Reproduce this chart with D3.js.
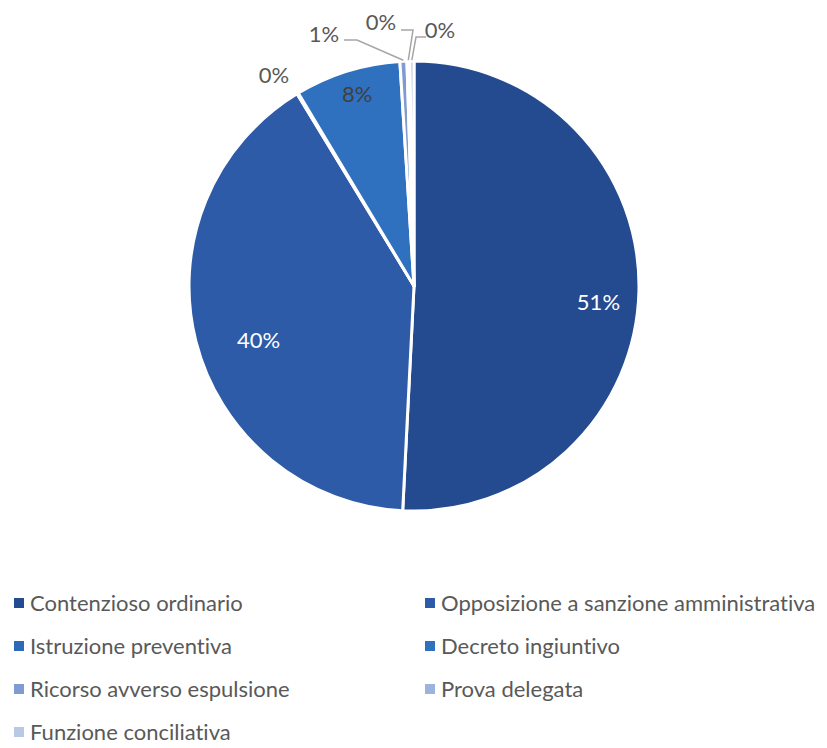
<!DOCTYPE html>
<html>
<head>
<meta charset="utf-8">
<script src="https://cdn.jsdelivr.net/npm/d3@7"></script>
<style>
  body { margin: 0; background: #fff; }
  text { font-family: Lato, "Open Sans", sans-serif; font-variant-ligatures: none; }
</style>
</head>
<body>
<div id="wrapper"></div>
<script>
// categories and shares (percent)
const categories = [
    "Contenzioso ordinario",
    "Opposizione a sanzione amministrativa",
    "Istruzione preventiva",
    "Decreto ingiuntivo",
    "Ricorso avverso espulsione",
    "Prova delegata",
    "Funzione conciliativa"
];
const values = [50.8, 40.5, 0.1, 7.6, 0.5, 0.2, 0.3];
const labels = ["51%", "40%", "0%", "8%", "1%", "0%", "0%"];
const colors = ["#244a90", "#2d5ba8", "#2e68b8", "#2f71bf", "#7f9bd2", "#9cb3de", "#b8c8e7"];

function build() {
    const dimension = { width: 827, height: 748 };
    const cx = 414, cy = 286, radius = 225;

    const wrapper = d3.select("#wrapper")
        .append("svg")
        .attr("width", dimension.width)
        .attr("height", dimension.height);

    const data = categories.map((c, i) => ({ name: c, value: values[i], label: labels[i], color: colors[i] }));

    const pie = d3.pie().sort(null).value(d => d.value);
    const arcs = pie(data);

    const arc = d3.arc().innerRadius(0).outerRadius(radius);

    const bounds = wrapper.append("g")
        .attr("transform", `translate(${cx},${cy})`);

    bounds.selectAll("path")
        .data(arcs)
        .enter()
        .append("path")
        .attr("d", arc)
        .attr("fill", d => d.data.color)
        .attr("stroke", "#fff")
        .attr("stroke-width", 3)
        .attr("stroke-linejoin", "round");

    // inside labels (big slices): radius factor + small nudge like excel's best fit
    const inside = { 0: [0.82, 0, 12], 1: [0.74, 6, 13], 3: [0.88, 2, -3] };
    bounds.selectAll("text.inside")
        .data(arcs.filter((d, i) => inside[i] !== undefined))
        .enter()
        .append("text")
        .attr("class", "inside")
        .attr("transform", d => {
            const [f, nx, ny] = inside[d.index];
            const a = (d.startAngle + d.endAngle) / 2;
            return `translate(${Math.sin(a) * radius * f + nx},${-Math.cos(a) * radius * f + ny})`;
        })
        .attr("text-anchor", "middle")
        .attr("dy", "0.35em")
        .style("font-size", "22px")
        .style("fill", d => d.index === 3 ? "#404040" : "#fff")
        .text(d => d.data.label);

    // outside labels for small slices: label pos relative to center, elbow
    const outside = {
        2: { x: -140, y: -211 },
        4: { x: -90, y: -252, ex: -57, ey: -246 },
        5: { x: -33, y: -264, ex: -1, ey: -256 },
        6: { x: 26, y: -256, ex: 2, ey: -249 }
    };
    arcs.forEach(d => {
        const o = outside[d.index];
        if (!o) return;
        const a = (d.startAngle + d.endAngle) / 2;
        const px = Math.sin(a) * (radius + 1), py = -Math.cos(a) * (radius + 1);
        if (o.ex !== undefined) {
            const lx = o.x + (o.x < o.ex ? 20 : -14);
            bounds.append("polyline")
                .attr("points", `${lx},${o.ey} ${o.ex},${o.ey} ${px},${py}`)
                .attr("fill", "none")
                .attr("stroke", "#a6a6a6")
                .attr("stroke-width", 1.5);
        }
        bounds.append("text")
            .attr("x", o.x)
            .attr("y", o.y)
            .attr("text-anchor", "middle")
            .attr("dy", "0.35em")
            .style("font-size", "22px")
            .style("fill", "#595959")
            .text(d.data.label);
    });

    // legend
    const legend = wrapper.append("g")
        .selectAll("g")
        .data(data)
        .enter()
        .append("g")
        .attr("transform", (d, i) => `translate(${i % 2 === 0 ? 14 : 425},${603 + Math.floor(i / 2) * 43})`);

    legend.append("rect")
        .attr("x", 0)
        .attr("y", -5)
        .attr("width", 10)
        .attr("height", 10)
        .attr("fill", d => d.color);

    legend.append("text")
        .attr("x", 16)
        .attr("dy", "0.35em")
        .style("font-size", "22px")
        .style("fill", "#595959")
        .text(d => d.name);
}

build();
</script>
</body>
</html>
